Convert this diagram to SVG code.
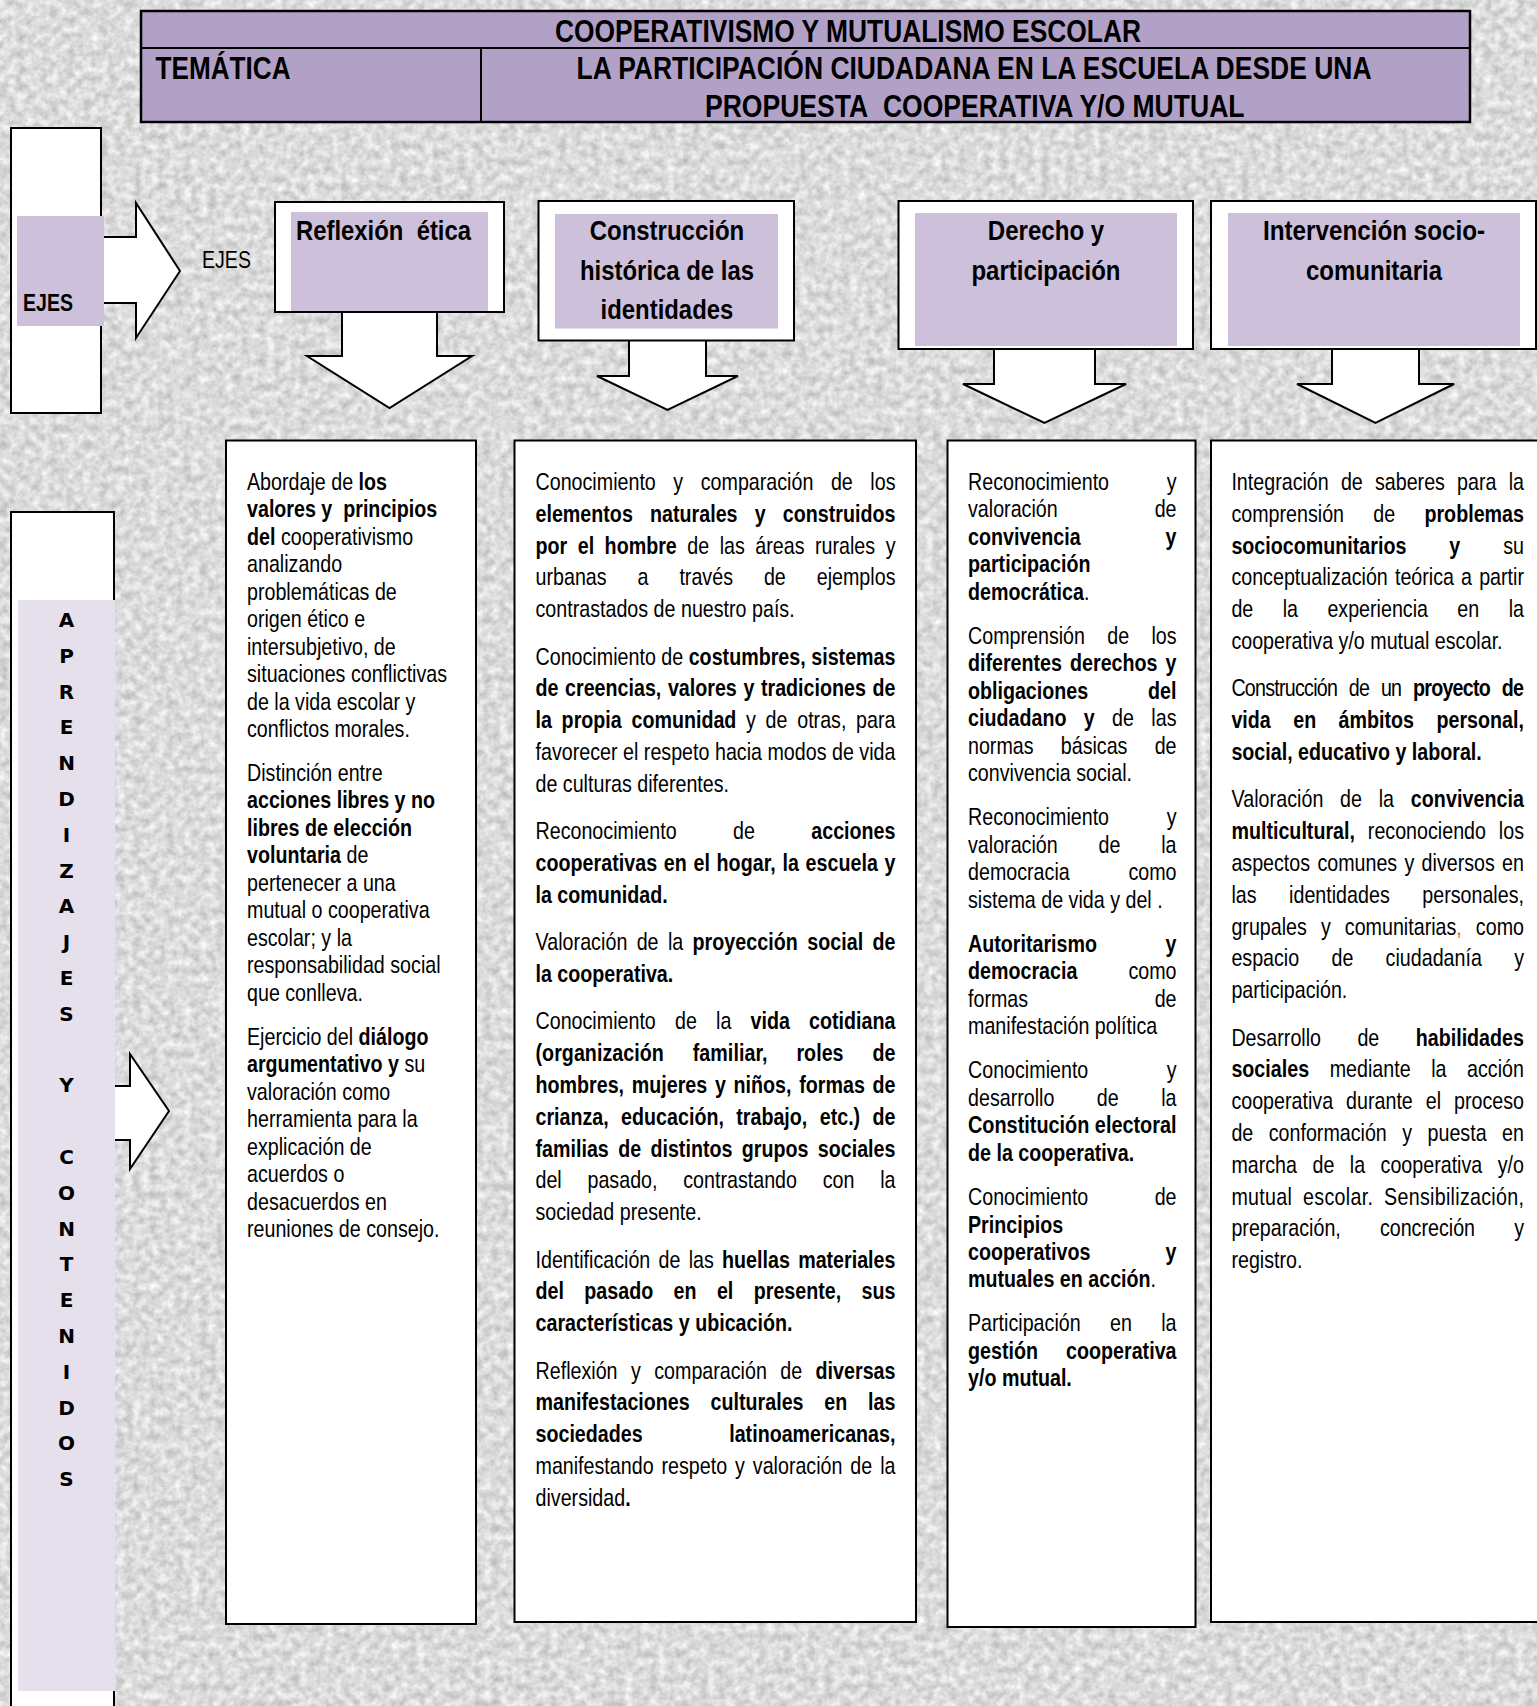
<svg xmlns="http://www.w3.org/2000/svg" width="1537" height="1706" viewBox="0 0 1537 1706">
<defs>
<filter id="stone" x="0" y="0" width="1537" height="1706" filterUnits="userSpaceOnUse" color-interpolation-filters="sRGB">
<feTurbulence type="fractalNoise" baseFrequency="0.12" numOctaves="4" seed="11"/>
<feColorMatrix type="matrix" values="0.32 0 0 0 0.7  0.32 0 0 0 0.7  0.32 0 0 0 0.7  0 0 0 0 1"/>
</filter>
<style>
.t{font-family:"Liberation Sans",Arial,sans-serif;font-size:24px;fill:#000}
.b{font-weight:bold}
.h{font-family:"Liberation Sans",Arial,sans-serif;font-weight:bold;fill:#000}
.box{fill:#fff;stroke:#000;stroke-width:2}
.pur{fill:#ccc0da}
.arrow{fill:#fff;stroke:#000;stroke-width:2;stroke-linejoin:miter}
.vl{font-family:"DejaVu Sans",Verdana,sans-serif;font-weight:bold;font-size:20px;fill:#000;text-anchor:middle}
.or{fill:#e36c09}
</style>
</defs>

<rect width="1537" height="1706" fill="#dadada" filter="url(#stone)"/>

<g id="connectors">
<path class="arrow" d="M104,237 H136 V203 L180,271 L136,338 V303 H104"/>
<path class="arrow" d="M115,1086 H130 V1054 L169,1111 L130,1169 V1140 H115"/>
<path class="arrow" d="M342,312 V356 H307 L389.5,408 L472,356 H437 V312"/>
<path class="arrow" d="M629,340.5 V376 H597 L667.5,410 L738,376 H706 V340.5"/>
<path class="arrow" d="M994,349 V384 H963 L1044.5,423 L1126,384 H1095 V349"/>
<path class="arrow" d="M1332,349 V384 H1297 L1375.5,423 L1454,384 H1419 V349"/>
</g>

<g id="header">
<rect x="141" y="11" width="1329" height="111" fill="#b2a1c7" stroke="#000" stroke-width="2.5"/>
<line x1="141" y1="48" x2="1470" y2="48" stroke="#000" stroke-width="2"/>
<line x1="481" y1="48" x2="481" y2="122" stroke="#000" stroke-width="2"/>
<text class="h" x="555" y="42" font-size="31" textLength="586" lengthAdjust="spacingAndGlyphs">COOPERATIVISMO Y MUTUALISMO ESCOLAR</text>
<text class="h" x="155.6" y="78.5" font-size="31" textLength="135" lengthAdjust="spacingAndGlyphs">TEMÁTICA</text>
<text class="h" x="576.5" y="78.5" font-size="31" textLength="795" lengthAdjust="spacingAndGlyphs">LA PARTICIPACIÓN CIUDADANA EN LA ESCUELA DESDE UNA</text>
<text class="h" x="705" y="116.5" font-size="31" textLength="539.5" lengthAdjust="spacingAndGlyphs">PROPUESTA&#160; COOPERATIVA Y/O MUTUAL</text>
</g>

<g id="ejes">
<rect class="box" x="11" y="128" width="90" height="285"/>
<rect class="pur" x="17" y="216" width="87" height="110"/>
<text class="h" x="23" y="311" font-size="24" textLength="50" lengthAdjust="spacingAndGlyphs">EJES</text>
</g>

<g id="ejes-label">
<text x="202" y="268" font-family="Liberation Sans, Arial, sans-serif" font-size="24" fill="#000" textLength="49" lengthAdjust="spacingAndGlyphs">EJES</text>
</g>

<g id="aprendizajes">
<rect class="box" x="11" y="512" width="103" height="1300" stroke-width="2.5"/>
<rect x="18" y="600" width="97" height="1091" fill="#e5e0ec"/>
<text class="vl">
<tspan x="66.5" y="627">A</tspan><tspan x="66.5" y="662.8">P</tspan><tspan x="66.5" y="698.6">R</tspan><tspan x="66.5" y="734.4">E</tspan><tspan x="66.5" y="770.2">N</tspan><tspan x="66.5" y="806">D</tspan><tspan x="66.5" y="841.8">I</tspan><tspan x="66.5" y="877.6">Z</tspan><tspan x="66.5" y="913.4">A</tspan><tspan x="66.5" y="949.2">J</tspan><tspan x="66.5" y="985">E</tspan><tspan x="66.5" y="1020.8">S</tspan><tspan x="66.5" y="1092.4">Y</tspan><tspan x="66.5" y="1164">C</tspan><tspan x="66.5" y="1199.8">O</tspan><tspan x="66.5" y="1235.6">N</tspan><tspan x="66.5" y="1271.4">T</tspan><tspan x="66.5" y="1307.2">E</tspan><tspan x="66.5" y="1343">N</tspan><tspan x="66.5" y="1378.8">I</tspan><tspan x="66.5" y="1414.6">D</tspan><tspan x="66.5" y="1450.4">O</tspan><tspan x="66.5" y="1486.2">S</tspan>
</text>
</g>

<g id="eje-reflexion-etica">
<rect class="box" x="275" y="202" width="229" height="110"/>
<rect class="pur" x="291" y="212" width="197" height="99"/>
<text class="h" x="296" y="240" font-size="28" textLength="175" lengthAdjust="spacingAndGlyphs">Reflexión&#160; ética</text>
</g>

<g id="eje-construccion-historica">
<rect class="box" x="538.5" y="201" width="255.5" height="139.5"/>
<rect class="pur" x="555" y="214" width="223" height="114.5"/>
<text class="h" x="589.7" y="240" font-size="28" textLength="154.5" lengthAdjust="spacingAndGlyphs">Construcción</text>
<text class="h" x="580" y="279.5" font-size="28" textLength="174" lengthAdjust="spacingAndGlyphs">histórica de las</text>
<text class="h" x="600.6" y="319" font-size="28" textLength="132.7" lengthAdjust="spacingAndGlyphs">identidades</text>
</g>

<g id="eje-derecho-participacion">
<rect class="box" x="898.5" y="201" width="294.5" height="148"/>
<rect class="pur" x="915" y="213" width="262" height="133"/>
<text class="h" x="987.8" y="240" font-size="28" textLength="116.4" lengthAdjust="spacingAndGlyphs">Derecho y</text>
<text class="h" x="971.5" y="279.5" font-size="28" textLength="149" lengthAdjust="spacingAndGlyphs">participación</text>
</g>

<g id="eje-intervencion">
<rect class="box" x="1211" y="201" width="325" height="148"/>
<rect class="pur" x="1228" y="213" width="292" height="133"/>
<text class="h" x="1263" y="240" font-size="28" textLength="222" lengthAdjust="spacingAndGlyphs">Intervención socio-</text>
<text class="h" x="1306" y="279.5" font-size="28" textLength="136" lengthAdjust="spacingAndGlyphs">comunitaria</text>
</g>

<g id="contenido-1">
<rect class="box" x="226" y="440.5" width="250" height="1183.5"/>
<g transform="translate(247,0) scale(0.82,1)" class="t">
<text x="0" y="490">Abordaje de <tspan class="b">los</tspan></text>
<text x="0" y="517.5" class="b">valores y&#160; principios</text>
<text x="0" y="545"><tspan class="b">del</tspan> cooperativismo</text>
<text x="0" y="572.5">analizando</text>
<text x="0" y="600">problemáticas de</text>
<text x="0" y="627.5">origen ético e</text>
<text x="0" y="655">intersubjetivo, de</text>
<text x="0" y="682.5">situaciones conflictivas</text>
<text x="0" y="710">de la vida escolar y</text>
<text x="0" y="737.5">conflictos morales.</text>
<text x="0" y="781">Distinción entre</text>
<text x="0" y="808.5" class="b">acciones libres y no</text>
<text x="0" y="836" class="b">libres de elección</text>
<text x="0" y="863.5"><tspan class="b">voluntaria</tspan> de</text>
<text x="0" y="891">pertenecer a una</text>
<text x="0" y="918.5">mutual o cooperativa</text>
<text x="0" y="946">escolar; y la</text>
<text x="0" y="973.5">responsabilidad social</text>
<text x="0" y="1001">que conlleva.</text>
<text x="0" y="1045">Ejercicio del <tspan class="b">diálogo</tspan></text>
<text x="0" y="1072.5"><tspan class="b">argumentativo y</tspan> su</text>
<text x="0" y="1100">valoración como</text>
<text x="0" y="1127.5">herramienta para la</text>
<text x="0" y="1155">explicación de</text>
<text x="0" y="1182.5">acuerdos o</text>
<text x="0" y="1210">desacuerdos en</text>
<text x="0" y="1237.5">reuniones de consejo.</text>
</g>
</g>

<g id="contenido-2">
<rect class="box" x="514.5" y="440.5" width="401.5" height="1181.5"/>
<g transform="translate(535.5,0) scale(0.82,1)" class="t">
<text x="0" y="490" style="word-spacing:14.7px" textLength="439" lengthAdjust="spacing">Conocimiento y comparación de los</text>
<text x="0" y="521.8" class="b" style="word-spacing:14.3px" textLength="439" lengthAdjust="spacing">elementos naturales y construidos</text>
<text x="0" y="553.6" style="word-spacing:6.1px" textLength="439" lengthAdjust="spacing"><tspan class="b">por el hombre</tspan> de las áreas rurales y</text>
<text x="0" y="585.4" style="word-spacing:31px" textLength="439" lengthAdjust="spacing">urbanas a través de ejemplos</text>
<text x="0" y="617.2">contrastados de nuestro país.</text>
<text x="0" y="664.6" textLength="439" lengthAdjust="spacing">Conocimiento de <tspan class="b">costumbres, sistemas</tspan></text>
<text x="0" y="696.4" class="b" style="word-spacing:1.4px" textLength="439" lengthAdjust="spacing">de creencias, valores y tradiciones de</text>
<text x="0" y="728.2" style="word-spacing:5.2px" textLength="439" lengthAdjust="spacing"><tspan class="b">la propia comunidad</tspan> y de otras, para</text>
<text x="0" y="760" textLength="439" lengthAdjust="spacing">favorecer el respeto hacia modos de vida</text>
<text x="0" y="791.8">de culturas diferentes.</text>
<text x="0" y="839.2" style="word-spacing:62.1px" textLength="439" lengthAdjust="spacing">Reconocimiento de <tspan class="b">acciones</tspan></text>
<text x="0" y="871" class="b" style="word-spacing:1.4px" textLength="439" lengthAdjust="spacing">cooperativas en el hogar, la escuela y</text>
<text x="0" y="902.8" class="b">la comunidad.</text>
<text x="0" y="950.2" style="word-spacing:4.6px" textLength="439" lengthAdjust="spacing">Valoración de la <tspan class="b">proyección social de</tspan></text>
<text x="0" y="982" class="b">la cooperativa.</text>
<text x="0" y="1029.4" style="word-spacing:16.7px" textLength="439" lengthAdjust="spacing">Conocimiento de la <tspan class="b">vida cotidiana</tspan></text>
<text x="0" y="1061.2" class="b" style="word-spacing:28.5px" textLength="439" lengthAdjust="spacing">(organización familiar, roles de</text>
<text x="0" y="1093" class="b" style="word-spacing:2.7px" textLength="439" lengthAdjust="spacing">hombres, mujeres y niños, formas de</text>
<text x="0" y="1124.8" class="b" style="word-spacing:8.4px" textLength="439" lengthAdjust="spacing">crianza, educación, trabajo, etc.) de</text>
<text x="0" y="1156.6" class="b" style="word-spacing:4.7px" textLength="439" lengthAdjust="spacing">familias de distintos grupos sociales</text>
<text x="0" y="1188.4" style="word-spacing:24.7px" textLength="439" lengthAdjust="spacing">del pasado, contrastando con la</text>
<text x="0" y="1220.2">sociedad presente.</text>
<text x="0" y="1267.6" style="word-spacing:3.4px" textLength="439" lengthAdjust="spacing">Identificación de las <tspan class="b">huellas materiales</tspan></text>
<text x="0" y="1299.4" class="b" style="word-spacing:18.2px" textLength="439" lengthAdjust="spacing">del pasado en el presente, sus</text>
<text x="0" y="1331.2" class="b">características y ubicación.</text>
<text x="0" y="1378.6" style="word-spacing:9.7px" textLength="439" lengthAdjust="spacing">Reflexión y comparación de <tspan class="b">diversas</tspan></text>
<text x="0" y="1410.4" class="b" style="word-spacing:18.7px" textLength="439" lengthAdjust="spacing">manifestaciones culturales en las</text>
<text x="0" y="1442.2" class="b" style="word-spacing:98.8px" textLength="439" lengthAdjust="spacing">sociedades latinoamericanas,</text>
<text x="0" y="1474" style="word-spacing:3px" textLength="439" lengthAdjust="spacing">manifestando respeto y valoración de la</text>
<text x="0" y="1505.8">diversidad<tspan class="b">.</tspan></text>
</g>
</g>

<g id="contenido-3">
<rect class="box" x="947.5" y="440.5" width="248" height="1186.5"/>
<g transform="translate(968,0) scale(0.82,1)" class="t">
<text x="0" y="490" style="word-spacing:63.6px" textLength="254.3" lengthAdjust="spacing">Reconocimiento y</text>
<text x="0" y="517.5" style="word-spacing:111.6px" textLength="254.3" lengthAdjust="spacing">valoración de</text>
<text x="0" y="545" class="b" style="word-spacing:96.9px" textLength="254.3" lengthAdjust="spacing">convivencia y</text>
<text x="0" y="572.5" class="b">participación</text>
<text x="0" y="600"><tspan class="b">democrática</tspan>.</text>
<text x="0" y="644" style="word-spacing:20.5px" textLength="254.3" lengthAdjust="spacing">Comprensión de los</text>
<text x="0" y="671.5" class="b" style="word-spacing:3.3px" textLength="254.3" lengthAdjust="spacing">diferentes derechos y</text>
<text x="0" y="699" class="b" style="word-spacing:66.5px" textLength="254.3" lengthAdjust="spacing">obligaciones del</text>
<text x="0" y="726.5" style="word-spacing:14.5px" textLength="254.3" lengthAdjust="spacing"><tspan class="b">ciudadano y</tspan> de las</text>
<text x="0" y="754" style="word-spacing:26.5px" textLength="254.3" lengthAdjust="spacing">normas básicas de</text>
<text x="0" y="781.5">convivencia social.</text>
<text x="0" y="825.5" style="word-spacing:63.6px" textLength="254.3" lengthAdjust="spacing">Reconocimiento y</text>
<text x="0" y="853" style="word-spacing:43.1px" textLength="254.3" lengthAdjust="spacing">valoración de la</text>
<text x="0" y="880.5" style="word-spacing:64.9px" textLength="254.3" lengthAdjust="spacing">democracia como</text>
<text x="0" y="908">sistema de vida y del .</text>
<text x="0" y="952" class="b" style="word-spacing:76.9px" textLength="254.3" lengthAdjust="spacing">Autoritarismo y</text>
<text x="0" y="979.5" style="word-spacing:55.6px" textLength="254.3" lengthAdjust="spacing"><tspan class="b">democracia</tspan> como</text>
<text x="0" y="1007" style="word-spacing:147.6px" textLength="254.3" lengthAdjust="spacing">formas de</text>
<text x="0" y="1034.5">manifestación política</text>
<text x="0" y="1078.5" style="word-spacing:88.9px" textLength="254.3" lengthAdjust="spacing">Conocimiento y</text>
<text x="0" y="1106" style="word-spacing:45.1px" textLength="254.3" lengthAdjust="spacing">desarrollo de la</text>
<text x="0" y="1133.5" class="b" textLength="254.3" lengthAdjust="spacingAndGlyphs">Constitución electoral</text>
<text x="0" y="1161" class="b">de la cooperativa.</text>
<text x="0" y="1205" style="word-spacing:74.2px" textLength="254.3" lengthAdjust="spacing">Conocimiento de</text>
<text x="0" y="1232.5" class="b">Principios</text>
<text x="0" y="1260" class="b" style="word-spacing:84.9px" textLength="254.3" lengthAdjust="spacing">cooperativos y</text>
<text x="0" y="1287.5"><tspan class="b">mutuales en acción</tspan>.</text>
<text x="0" y="1331.5" style="word-spacing:29.1px" textLength="254.3" lengthAdjust="spacing">Participación en la</text>
<text x="0" y="1359" class="b" style="word-spacing:27.5px" textLength="254.3" lengthAdjust="spacing">gestión cooperativa</text>
<text x="0" y="1386.5" class="b">y/o mutual.</text>
</g>
</g>

<g id="contenido-4">
<rect class="box" x="1211" y="440.5" width="340" height="1181.5"/>
<g transform="translate(1231.4,0) scale(0.82,1)" class="t">
<text x="0" y="490" style="word-spacing:8.2px" textLength="356.8" lengthAdjust="spacing">Integración de saberes para la</text>
<text x="0" y="521.8" style="word-spacing:29px" textLength="356.8" lengthAdjust="spacing">comprensión de <tspan class="b">problemas</tspan></text>
<text x="0" y="553.6" style="word-spacing:45.7px" textLength="356.8" lengthAdjust="spacing"><tspan class="b">sociocomunitarios y</tspan> su</text>
<text x="0" y="585.4" style="word-spacing:2px" textLength="356.8" lengthAdjust="spacing">conceptualización teórica a partir</text>
<text x="0" y="617.2" style="word-spacing:29.2px" textLength="356.8" lengthAdjust="spacing">de la experiencia en la</text>
<text x="0" y="649">cooperativa y/o mutual escolar.</text>
<text x="0" y="696.4" style="word-spacing:8.5px" textLength="356.8" lengthAdjust="spacing">Construcción de un <tspan class="b">proyecto de</tspan></text>
<text x="0" y="728.2" class="b" style="word-spacing:20.7px" textLength="356.8" lengthAdjust="spacing">vida en ámbitos personal,</text>
<text x="0" y="760" class="b">social, educativo y laboral.</text>
<text x="0" y="807.4" style="word-spacing:13.5px" textLength="356.8" lengthAdjust="spacing">Valoración de la <tspan class="b">convivencia</tspan></text>
<text x="0" y="839.2" style="word-spacing:9px" textLength="356.8" lengthAdjust="spacing"><tspan class="b">multicultural,</tspan> reconociendo los</text>
<text x="0" y="871" style="word-spacing:2.2px" textLength="356.8" lengthAdjust="spacing">aspectos comunes y diversos en</text>
<text x="0" y="902.8" style="word-spacing:33px" textLength="356.8" lengthAdjust="spacing">las identidades personales,</text>
<text x="0" y="934.6" style="word-spacing:10.5px" textLength="356.8" lengthAdjust="spacing">grupales y comunitarias<tspan class="or">,</tspan> como</text>
<text x="0" y="966.4" style="word-spacing:32.7px" textLength="356.8" lengthAdjust="spacing">espacio de ciudadanía y</text>
<text x="0" y="998.2">participación.</text>
<text x="0" y="1045.6" style="word-spacing:37.7px" textLength="356.8" lengthAdjust="spacing">Desarrollo de <tspan class="b">habilidades</tspan></text>
<text x="0" y="1077.4" style="word-spacing:18.4px" textLength="356.8" lengthAdjust="spacing"><tspan class="b">sociales</tspan> mediante la acción</text>
<text x="0" y="1109.2" style="word-spacing:9.1px" textLength="356.8" lengthAdjust="spacing">cooperativa durante el proceso</text>
<text x="0" y="1141" style="word-spacing:12.2px" textLength="356.8" lengthAdjust="spacing">de conformación y puesta en</text>
<text x="0" y="1172.8" style="word-spacing:12.2px" textLength="356.8" lengthAdjust="spacing">marcha de la cooperativa y/o</text>
<text x="0" y="1204.6" style="word-spacing:6.2px" textLength="356.8" lengthAdjust="spacing">mutual escolar. Sensibilización,</text>
<text x="0" y="1236.4" style="word-spacing:41px" textLength="356.8" lengthAdjust="spacing">preparación, concreción y</text>
<text x="0" y="1268.2">registro.</text>
</g>
</g>
</svg>
